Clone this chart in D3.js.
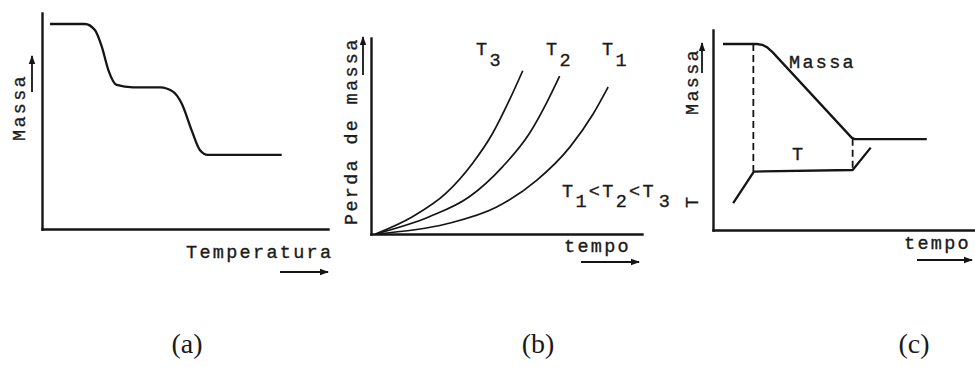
<!DOCTYPE html>
<html>
<head>
<meta charset="utf-8">
<script src="https://cdn.jsdelivr.net/npm/d3@7"></script>
<style>
    body { margin: 0; background: #fff; }
    text { font-family: "Liberation Mono", "DejaVu Sans Mono", monospace; fill: #1a1a1a; }
    .lbl { font-size: 18.5px; letter-spacing: 2.3px; stroke: #1a1a1a; stroke-width: 0.35px; }
    .caption { font-family: "Liberation Serif", serif; font-size: 28px; letter-spacing: 0; }
</style>
</head>
<body>
<div id="figure"></div>
<script>
// (a) mass vs temperature (0-100 units)
const tgaTemperatura = [2.8, 15.0, 18.5, 20.9, 23.2, 26.1, 31.8, 41.3, 45.8, 48.8, 52.3, 55.2, 58.0, 83.8];
const tgaMassa = [94.9, 94.9, 92.1, 84.4, 73.6, 66.7, 65.6, 65.6, 63.6, 58.2, 45.8, 36.6, 34.3, 34.3];

// (b) isothermal mass loss curves
const isoNames = ["3", "2", "1"];
const t3Tempo = [1.7, 15.3, 27.7, 37.5, 44.9, 51.1, 56.0];
const t3Perda = [0, 8.8, 20.8, 36.1, 51.4, 68.4, 83.3];
const t2Tempo = [1.7, 21.5, 36.3, 48.6, 58.5, 64.7, 69.6];
const t2Perda = [0, 8.8, 19.0, 34.4, 51.4, 66.7, 80.6];
const t1Tempo = [1.7, 27.7, 46.2, 61.0, 73.3, 81.9, 87.5];
const t1Perda = [0, 5.1, 13.6, 27.2, 44.2, 61.1, 75.0];

// (c) mass and temperature vs time
const massaTempo = [3.8, 16.7, 18.8, 20.8, 22.8, 52.9, 54.2, 81.6];
const massaValor = [93, 93, 92.6, 91.2, 88.8, 46.2, 45.4, 45.4];
const tTempo = [7.7, 15.6, 53.3, 60.2];
const tValor = [13.4, 29.2, 30, 41.2];
const dropTempo = [15.4, 53.3];
const dropTopo = [93, 45.6];
const dropBase = [29.2, 30];

var width = 975, height = 367;
var ink = "#151515";

var svg = d3.select("#figure")
    .append("svg")
    .attr("width", width)
    .attr("height", height);

//Arrow head
svg.append("defs").append("marker")
    .attr("id", "head")
    .attr("markerUnits", "userSpaceOnUse")
    .attr("viewBox", "0 -4 9 8")
    .attr("refX", 8)
    .attr("refY", 0)
    .attr("markerWidth", 9)
    .attr("markerHeight", 8)
    .attr("orient", "auto")
    .append("path")
    .attr("d", "M0,-3.2L9,0L0,3.2Z")
    .attr("fill", ink);

function arrow(x1, y1, x2, y2) {
    svg.append("line")
        .attr("x1", x1).attr("y1", y1)
        .attr("x2", x2).attr("y2", y2)
        .attr("stroke", ink)
        .attr("stroke-width", 1.8)
        .attr("marker-end", "url(#head)");
}

function axes(x, y) {
    svg.append("g")
        .attr("transform", "translate(0," + y.range()[0] + ")")
        .call(d3.axisBottom(x).ticks(0).tickSizeOuter(0))
        .select(".domain")
        .attr("stroke", ink)
        .attr("stroke-width", 2.4)
        .attr("stroke-linecap", "square");
    svg.append("g")
        .attr("transform", "translate(" + x.range()[0] + ",0)")
        .call(d3.axisLeft(y).ticks(0).tickSizeOuter(0))
        .select(".domain")
        .attr("stroke", ink)
        .attr("stroke-width", 2.4)
        .attr("stroke-linecap", "square");
}

function rotLabel(txt, x, y) {
    svg.append("text")
        .attr("class", "lbl")
        .attr("transform", "translate(" + x + "," + y + ")rotate(-90)")
        .text(txt);
}

function label(txt, x, y) {
    return svg.append("text")
        .attr("class", "lbl")
        .attr("x", x)
        .attr("y", y)
        .text(txt);
}

function curve(xs, ys, x, y, w, kind) {
    svg.append("path")
        .datum(xs.map((v, i) => [v, ys[i]]))
        .attr("fill", "none")
        .attr("stroke", ink)
        .attr("stroke-width", w)
        .attr("stroke-linejoin", "round")
        .attr("d", d3.line()
            .x(d => x(d[0]))
            .y(d => y(d[1]))
            .curve(kind));
}

//----- (a)
var xa = d3.scaleLinear().domain([0, 100]).range([42, 328]);
var ya = d3.scaleLinear().domain([0, 100]).range([229, 13]);
axes(xa, ya);
curve(tgaTemperatura, tgaMassa, xa, ya, 2.3, d3.curveMonotoneX);
rotLabel("Massa", 25, 141);
arrow(32, 92, 32, 56);
label("Temperatura", 186, 258);
arrow(280, 272, 328, 272);

//----- (b)
var xb = d3.scaleLinear().domain([0, 100]).range([371, 642]);
var yb = d3.scaleLinear().domain([0, 100]).range([234, 38]);
axes(xb, yb);
var isoTempo = [t3Tempo, t2Tempo, t1Tempo];
var isoPerda = [t3Perda, t2Perda, t1Perda];
isoTempo.forEach((t, i) => curve(t, isoPerda[i], xb, yb, 1.7, d3.curveMonotoneX));
var tagX = [476, 546, 602];
isoNames.forEach((n, i) => {
    var t = label("T", tagX[i], 55);
    t.append("tspan").attr("dy", 11).text(n);
});
var order = label("T", 562, 197);
order.append("tspan").attr("dy", 10).text("1");
order.append("tspan").attr("dy", -10).text("<T");
order.append("tspan").attr("dy", 10).text("2");
order.append("tspan").attr("dy", -10).text("<T");
order.append("tspan").attr("dy", 10).attr("dx", 3).text("3");
rotLabel("Perda de massa", 357, 225);
arrow(363, 75, 363, 37);
label("tempo", 564, 252);
arrow(581, 262, 639, 262);

//----- (c)
var xc = d3.scaleLinear().domain([0, 100]).range([713, 975]);
var yc = d3.scaleLinear().domain([0, 100]).range([230, 30]);
axes(xc, yc);
curve(massaTempo, massaValor, xc, yc, 2.3, d3.curveLinear);
curve(tTempo, tValor, xc, yc, 2.3, d3.curveLinear);
dropTempo.forEach((t, i) => {
    svg.append("line")
        .attr("x1", xc(t)).attr("x2", xc(t))
        .attr("y1", yc(dropTopo[i])).attr("y2", yc(dropBase[i]))
        .attr("stroke", ink)
        .attr("stroke-width", 1.8)
        .attr("stroke-dasharray", "7,4");
});
label("Massa", 789, 68);
label("T", 792, 160);
rotLabel("Massa", 698, 115);
arrow(702, 73, 702, 43);
rotLabel("T", 698, 208);
label("tempo", 904, 249);
arrow(917, 260, 972, 260);

//Captions
var captions = ["(a)", "(b)", "(c)"];
var capX = [187, 538, 914];
svg.selectAll(".caption")
    .data(captions)
    .enter()
    .append("text")
    .attr("class", "caption")
    .attr("x", (d, i) => capX[i])
    .attr("y", 353)
    .attr("text-anchor", "middle")
    .text(d => d);
</script>
</body>
</html>
